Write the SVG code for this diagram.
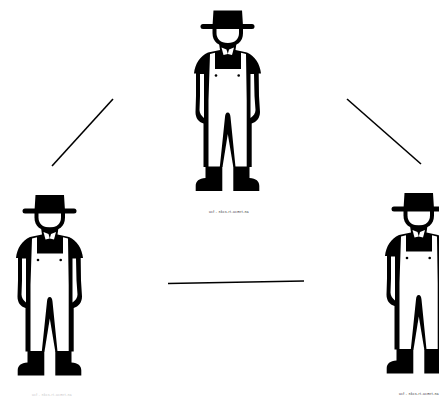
<svg xmlns="http://www.w3.org/2000/svg" width="439" height="396" viewBox="0 0 439 396">
<style>
.lbl{font-family:"Liberation Sans",Arial,sans-serif;font-size:3.2px;letter-spacing:.45px;text-anchor:middle;fill:#222}
.edge{stroke:#000;stroke-width:1.6;fill:none}
.k{fill:#000}.w{fill:#fff}
</style>
<defs>
<g id="farmer">
<path class="k" d="M213.500 10.500 H242 L243 26 H212.500 Z"/>
<rect class="k" x="200.500" y="24" width="54" height="5" rx="2.500"/>
<path class="k" d="M212.500 27 V33 C212.500 42 219 46.500 227.800 46.500 C236.500 46.500 243 42 243 33 V27 Z"/>
<path class="w" d="M216.500 29 H239 V33 C239 39 235 43 227.800 43 C220.500 43 216.500 39 216.500 33 Z"/>
<path class="k" d="M219 43 L220 50 L208 52.500 C200 56 195 64 194 73.500 H196 L196 96 L195.500 112 C195.500 118 198.500 122 203.500 123.500 L203.500 167 H251.700 L251.700 123.500 C256.500 122 260 118 260 112 L259 96 L258.700 73.500 H261 C260 64 255 56 247 52.500 L235.500 50 L236.500 43 Z"/>
<path class="w" d="M221.500 47.500 L226.500 49.500 L227.800 54 L223.500 55 Z"/>
<path class="w" d="M234 47.500 L229 49.500 L227.800 54 L232 55 Z"/>
<path class="w" d="M210 54 L215 52.800 V69 H241 V52.800 L246 54 L246.700 100 V167 H208.500 V100 Z"/>
<path class="k" d="M227.700 112.500 C226 112.500 225.300 114 225 117 L219.800 167 H235.500 L230.500 117 C230.200 114 229.500 112.500 227.700 112.500 Z"/>
<path class="w" d="M227.800 134 L222.500 167 V192 H233.300 V167 Z"/>
<circle class="k" cx="216" cy="75.500" r="1.300"/><circle class="k" cx="238.700" cy="75.500" r="1.300"/>
<path class="w" d="M200 74 H204 L204 100 V118 C201.500 116 199.500 113 199.500 110 L200 96 Z"/>
<path class="w" d="M254 74 H250.500 L250.500 100 V118 C253.500 116 255.500 113 255.500 110 L254.500 96 Z"/>
<path class="k" d="M205.500 166.500 H222.300 V191 H195.700 V186 C195.700 181 199 178.500 205.500 178 Z"/>
<path class="k" d="M233.300 166.500 H249.500 V178 C256 178.500 259.300 181 259.300 186 V191 H233.300 Z"/>
</g>
</defs>
<g id="connectors">
<line class="edge" x1="52" y1="166" x2="113" y2="99"/>
<line class="edge" x1="347" y1="99" x2="421" y2="164"/>
<line class="edge" x1="168" y1="283.500" x2="304" y2="281"/>
</g>
<g id="node-top"><use href="#farmer"/><text class="lbl" x="229" y="213">ucf - nkcs-rt-ucmrt-na</text></g>
<g id="node-left"><use href="#farmer" x="-178" y="184.500"/><text class="lbl" x="52" y="396" opacity=".3">ucf - nkcs-rt-ucmrt-na</text></g>
<g id="node-right"><use href="#farmer" x="191" y="182.500"/><text class="lbl" x="419" y="395">ucf - nkcs-rt-ucmrt-na</text></g>
</svg>
